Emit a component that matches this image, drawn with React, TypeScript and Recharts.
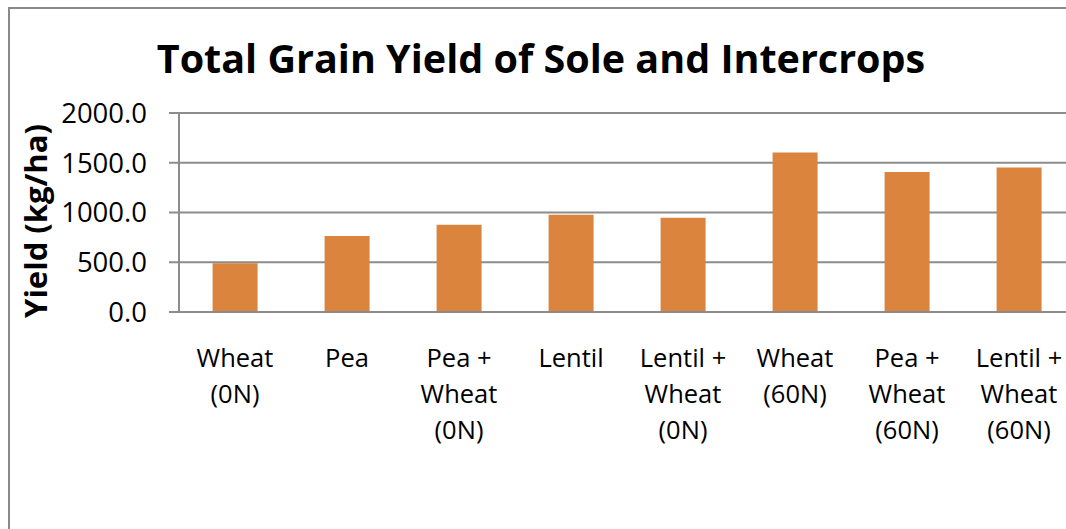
import React from 'react';
import { BarChart, Bar, XAxis, YAxis, CartesianGrid } from 'recharts';

const categories = [
  'Wheat (0N)',
  'Pea',
  'Pea + Wheat (0N)',
  'Lentil',
  'Lentil + Wheat (0N)',
  'Wheat (60N)',
  'Pea + Wheat (60N)',
  'Lentil + Wheat (60N)',
];
const categoryLines = [
  ['Wheat', '(0N)'],
  ['Pea'],
  ['Pea +', 'Wheat', '(0N)'],
  ['Lentil'],
  ['Lentil +', 'Wheat', '(0N)'],
  ['Wheat', '(60N)'],
  ['Pea +', 'Wheat', '(60N)'],
  ['Lentil +', 'Wheat', '(60N)'],
];
const yieldValues = [490, 765, 876, 978, 948, 1603, 1408, 1452];
const yTicks = [0, 500, 1000, 1500, 2000];
const edgeTicks = [0, 1, 2, 3, 4, 5, 6, 7, 8];

const data = categories.map((c, i) => ({ name: c, idx: i, value: yieldValues[i] }));

const FONT = '"Open Sans", sans-serif';
const GRID = '#8c8c8c';

const CategoryTick = (props: any) => {
  const { x, y, index } = props;
  const lines = categoryLines[index] || [props.payload.value];
  return (
    <text x={x} y={y} textAnchor="middle" fontFamily={FONT} fontSize={25.5} fill="#000">
      {lines.map((l: string, i: number) => (
        <tspan key={i} x={x} dy={i === 0 ? 55 : 36}>
          {l}
        </tspan>
      ))}
    </text>
  );
};

export default function App() {
  return (
    <div
      style={{
        position: 'fixed',
        left: 0,
        top: 0,
        width: 1066,
        height: 529,
        overflow: 'hidden',
        background: '#fff',
      }}
    >
      <div
        style={{
          position: 'absolute',
          left: 8,
          top: 7,
          width: 1100,
          height: 600,
          border: '2px solid #8a8a8a',
          boxSizing: 'border-box',
        }}
      />
      <div style={{ position: 'absolute', left: 8, top: 8 }}>
        <BarChart
          width={1090}
          height={521}
          data={data}
          margin={{ top: 105, right: 23, bottom: 7, left: 51 }}
          barCategoryGap="30%"
        >
          <CartesianGrid horizontal vertical={false} stroke={GRID} strokeWidth={2} />
          <XAxis
            xAxisId="edges"
            type="number"
            dataKey="idx"
            domain={[0, 8]}
            ticks={edgeTicks}
            tickFormatter={() => ''}
            axisLine={false}
            tickLine={{ stroke: GRID, strokeWidth: 2 }}
            tickSize={8}
            height={0}
            allowDataOverflow
          />
          <XAxis
            xAxisId="cat"
            dataKey="name"
            axisLine={{ stroke: GRID, strokeWidth: 2 }}
            tickLine={false}
            tickSize={0}
            tickMargin={0}
            interval={0}
            height={210}
            tick={<CategoryTick />}
          />
          <YAxis
            domain={[0, 2000]}
            ticks={yTicks}
            width={120}
            tickFormatter={(v: number) => v.toFixed(1)}
            axisLine={{ stroke: GRID, strokeWidth: 2 }}
            tickLine={{ stroke: GRID, strokeWidth: 2 }}
            tickSize={10}
            tickMargin={22}
            tick={{ fill: '#000', fontFamily: FONT, fontSize: 27.5 }}
          />
          <Bar dataKey="value" xAxisId="cat" fill="#DB843E" isAnimationActive={false} />
        </BarChart>
      </div>
      <svg
        width={1066}
        height={529}
        style={{ position: 'absolute', left: 0, top: 0, pointerEvents: 'none' }}
      >
        <text
          x={541}
          y={73}
          textAnchor="middle"
          fontFamily={FONT}
          fontWeight="bold"
          fontSize={39.5}
          fill="#000"
        >
          Total Grain Yield of Sole and Intercrops
        </text>
        <text
          x={47}
          y={221}
          transform="rotate(-90, 47, 221)"
          textAnchor="middle"
          fontFamily={FONT}
          fontWeight="bold"
          fontSize={31}
          fill="#000"
        >
          Yield (kg/ha)
        </text>
      </svg>
    </div>
  );
}
